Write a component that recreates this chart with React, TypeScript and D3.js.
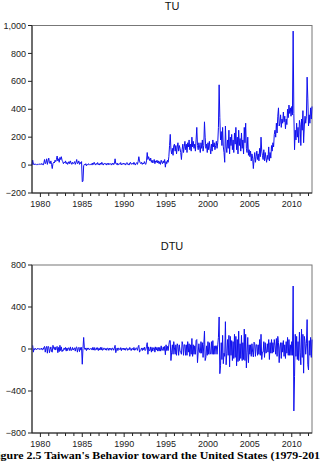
import * as d3 from "d3";
import React, { useRef, useEffect } from "react";

// monthly observations, 1979M01 - 2012M06
const startYear = 1979;
const yearTicks = d3.range(1980, 2013);
const yearLabels = [1980, 1985, 1990, 1995, 2000, 2005, 2010];
const tuTicks = [-200, 0, 200, 400, 600, 800, 1000];
const dtuTicks = [-800, -400, 0, 400, 800];

const tu1979to1984 = [
  0, 35, 5, 10, 2, 8, 5, 0, 6, 4, 10, 5,
  8, 3, 12, 5, 0, 15, 40, 10, 20, 45, 5, 30,
  50, 15, 10, 30, 5, -25, 10, 20, 15, 35, 25, 40,
  65, 30, 45, 20, 55, 40, 60, 35, 25, 10, 20, 15,
  30, 10, 20, 5, 15, 25, 10, 30, 15, 5, 20, 10,
  15, 25, 5, 20, 40, 10, 15, 30, 5, 20, 10, 25,
];
const tu1985to1994 = [
  -120, -115, -5, 5, 0, 10, -5, 5, 0, 10, 5, 0,
  5, 10, 0, 15, 5, 20, 8, 0, 12, 5, 18, 3,
  10, 0, 15, 5, 20, 8, 0, 10, 15, 5, 12, 0,
  8, 15, 2, 10, 5, 12, 0, 8, 15, 3, 10, 45,
  10, 5, 15, 0, 8, 12, 5, 18, 2, 10, 6, 15,
  5, 12, 0, 10, 18, 5, 8, 0, 15, 20, 5, 10,
  15, 5, 20, 8, 0, 12, 18, 5, 25, 60, 30, 15,
  10, 20, 5, 15, 8, 25, 10, 5, 30, 90, 40, 60,
  45, 30, 50, 20, 35, 15, 25, 40, 10, 30, 20, 35,
  15, 30, 10, 25, 5, 35, 20, 10, 30, 15, 40, -15,
];
const tu1995to2004 = [
  25, 10, 35, 20, 60, 140, 220, 110, 80, 120, 70, 140,
  150, 100, 140, 80, 130, 160, 100, 140, 120, 90, 40, 110,
  150, 90, 130, 170, 110, 150, 90, 160, 130, 180, 110, 150,
  100, 200, 130, 170, 120, 150, 100, 180, 270, 140, 110, 160,
  130, 90, 160, 120, 180, 100, 140, 310, 200, 120, 150, 90,
  160, 110, 170, 120, 80, 150, 100, 180, 130, 160, 110, 140,
  170, 120, 160, 270, 575, 340, 180, 240, 140, 270, 130, 90,
  20, 280, 130, 90, 180, 120, 250, 80, 200, 140, 220, 110,
  180, 90, 230, 150, 270, 110, 200, 80, 250, 140, 190, 100,
  230, 120, 180, 80, 270, 160, 300, 120, 90, 200, 70, 110,
];
const tu2005to2012 = [
  60, 100, 30, 80, 50, -25, 40, 90, 20, 60, 100, 40,
  80, 30, 120, 60, 200, 100, 70, 40, 110, 30, 90, 50,
  20, 70, 40, 130, 30, 90, 50, 140, 100, 160, 130, 220,
  250, 200, 300, 230, 350, 410, 280, 300, 360, 270, 330, 300,
  380, 310, 350, 260, 330, 290, 400, 340, 430, 370, 410, 350,
  420, 360, 960, 370, 110, 250, 180, 300, 200, 270, 160, 320,
  290, 140, 330, 250, 390, 160, 280, 350, 300, 350, 630, 480,
  280, 360, 300, 410, 330, 420,
];

const tu = [...tu1979to1984, ...tu1985to1994, ...tu1995to2004, ...tu2005to2012];
// DTU is the first difference of TU (starts at 1979M02)
const dtu = d3.pairs(tu).map(([a, b]) => b - a);

const width = 320;
const height = 465;
const plotLeft = 32;
const plotRight = 312;
const font = "'Liberation Sans', Arial, sans-serif";

function App() {
  const ref = useRef(null);

  useEffect(() => {
    const svg = d3.select(ref.current);
    svg.selectAll("*").remove();

    const x = d3
      .scaleLinear()
      .domain([0, tu.length - 1])
      .range([plotLeft, plotRight]);

    const drawPanel = (title, values, offset, ticks, top, bottom) => {
      const y = d3
        .scaleLinear()
        .domain([ticks[0], ticks[ticks.length - 1]])
        .range([bottom, top]);
      const g = svg.append("g");

      g.append("text")
        .attr("x", 172)
        .attr("y", top - 15.5)
        .attr("text-anchor", "middle")
        .style("font", `11px ${font}`)
        .attr("fill", "#111")
        .text(title);

      g.append("rect")
        .attr("x", plotLeft)
        .attr("y", top)
        .attr("width", plotRight - plotLeft)
        .attr("height", bottom - top)
        .attr("fill", "none")
        .attr("stroke", "#777")
        .attr("stroke-width", 1);

      g.append("path")
        .datum(values)
        .attr("fill", "none")
        .attr("stroke", "#1010ee")
        .attr("stroke-width", 1)
        .attr("stroke-linejoin", "round")
        .attr(
          "d",
          d3
            .line()
            .x((d, i) => x(i + offset))
            .y((d) => y(d))
        );

      // left and bottom axes
      g.append("line")
        .attr("x1", plotLeft)
        .attr("x2", plotLeft)
        .attr("y1", top)
        .attr("y2", bottom)
        .attr("stroke", "#222");
      g.append("line")
        .attr("x1", plotLeft)
        .attr("x2", plotRight)
        .attr("y1", bottom)
        .attr("y2", bottom)
        .attr("stroke", "#222");

      g.selectAll(".ytick")
        .data(ticks)
        .join("line")
        .classed("ytick", true)
        .attr("x1", plotLeft - 4)
        .attr("x2", plotLeft)
        .attr("y1", (d) => y(d))
        .attr("y2", (d) => y(d))
        .attr("stroke", "#222");

      g.selectAll(".ylabel")
        .data(ticks)
        .join("text")
        .classed("ylabel", true)
        .attr("x", plotLeft - 6)
        .attr("y", (d) => y(d))
        .attr("dy", "0.35em")
        .attr("text-anchor", "end")
        .attr("fill", "#222")
        .style("font", `9px ${font}`)
        .text((d) => d3.format(",")(d));

      g.selectAll(".xtick")
        .data(yearTicks)
        .join("line")
        .classed("xtick", true)
        .attr("x1", (d) => x((d - startYear) * 12))
        .attr("x2", (d) => x((d - startYear) * 12))
        .attr("y1", bottom)
        .attr("y2", (d) => bottom + (yearLabels.includes(d) ? 4 : 3))
        .attr("stroke", "#222");

      g.selectAll(".xlabel")
        .data(yearLabels)
        .join("text")
        .classed("xlabel", true)
        .attr("x", (d) => x((d - startYear) * 12))
        .attr("y", bottom + 13.5)
        .attr("text-anchor", "middle")
        .attr("fill", "#222")
        .style("font", `9px ${font}`)
        .text((d) => d);
    };

    drawPanel("TU", tu, 0, tuTicks, 25.5, 193);
    drawPanel("DTU", dtu, 1, dtuTicks, 265, 433);

    svg
      .append("text")
      .attr("x", 160)
      .attr("y", 459)
      .attr("text-anchor", "middle")
      .attr("textLength", 340)
      .attr("lengthAdjust", "spacingAndGlyphs")
      .style("font", "bold 11px 'Liberation Serif', 'Times New Roman', serif")
      .attr("fill", "#000")
      .text("Figure 2.5 Taiwan's Behavior toward the United States (1979-2012)");
  }, []);

  return (
    <svg
      ref={ref}
      width={width}
      height={height}
      style={{ position: "absolute", left: 0, top: 0, background: "#fff" }}
    ></svg>
  );
}

export default App;
